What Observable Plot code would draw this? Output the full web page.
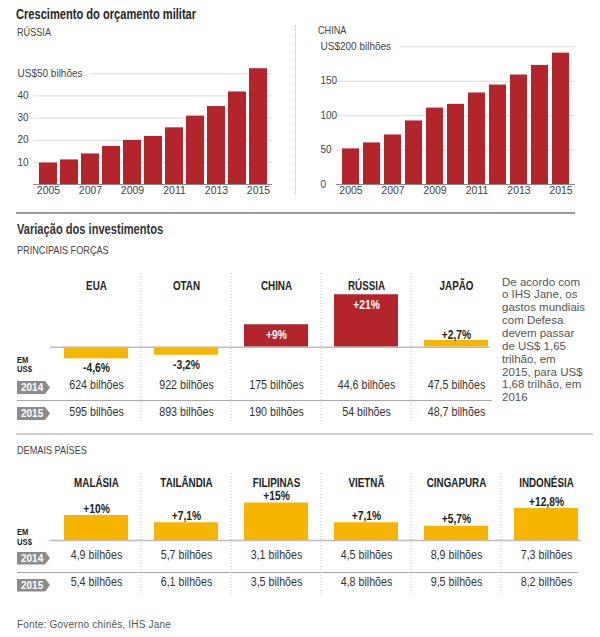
<!DOCTYPE html>
<html>
<head>
<meta charset="utf-8">
<script src="https://cdn.jsdelivr.net/npm/d3@7"></script>
<script src="https://cdn.jsdelivr.net/npm/@observablehq/plot@0.6"></script>
<style>
  html, body { margin: 0; padding: 0; background: #fff; }
  #root { position: relative; width: 600px; height: 637px; overflow: hidden; font-family: "Liberation Sans", Arial, sans-serif; color: #222; }
  .abs { position: absolute; white-space: nowrap; line-height: 1; }
  .cond { display: inline-block; transform-origin: left top; }
  .h1 { font-size: 15px; font-weight: bold; color: #262626; transform: scaleX(0.74); }
  .h2 { font-size: 11px; color: #444; transform: scaleX(0.83); }
  .tag { position: absolute; left: 17px; width: 33px; height: 13px; background: #8c8c8c; color: #fff;
         font: bold 10px "Liberation Sans", Arial, sans-serif; line-height: 13px; padding-left: 4px; box-sizing: border-box;
         clip-path: polygon(0 0, 28px 0, 33px 50%, 28px 100%, 0 100%); }
  .emus { position: absolute; left: 17px; font-size: 9px; font-weight: bold; line-height: 9.7px; color: #222;
          transform: scaleX(0.85); transform-origin: left top; white-space: nowrap; }
  .hline { position: absolute; height: 0; }
  .plotbox { position: absolute; }
  .note { position: absolute; left: 502px; top: 275.5px; font-size: 11.5px; line-height: 12.86px; color: #555; white-space: nowrap; }
</style>
</head>
<body>
<div id="root">
  <div class="abs cond h1" style="left:16px;top:5.5px;">Crescimento do orçamento militar</div>
  <div class="abs cond h2" style="left:17px;top:26.7px;">RÚSSIA</div>
  <div class="abs cond h2" style="left:318px;top:25.2px;">CHINA</div>
  <div style="position:absolute;left:295px;top:25px;height:170px;border-left:1px dotted #ccc;"></div>
  <div id="russia" class="plotbox" style="left:0px;top:60px;"></div>
  <div id="china" class="plotbox" style="left:303px;top:35px;"></div>

  <div class="hline" style="left:16px;top:211.5px;width:559px;border-top:2px solid #9a9a9a;"></div>
  <div class="abs cond h1" style="left:17px;top:220.6px;color:#333;">Variação dos investimentos</div>
  <div class="abs cond h2" style="left:17px;top:245px;">PRINCIPAIS FORÇAS</div>

  <div class="hline" style="left:17px;top:400px;width:475px;border-top:1px solid #aaa;"></div>
  <div id="main" class="plotbox" style="left:0px;top:268px;"></div>
  <div class="emus" style="top:355.5px;">EM<br>US$</div>
  <div class="tag" style="top:381px;">2014</div>
  <div class="tag" style="top:407px;">2015</div>
  <div class="note">De acordo com<br>o IHS Jane, os<br>gastos mundiais<br>com Defesa<br>devem passar<br>de US$ 1,65<br>trilhão, em<br>2015, para US$<br>1,68 trilhão, em<br>2016</div>

  <div class="hline" style="left:16px;top:433px;width:577px;border-top:2px solid #cfcfcf;"></div>
  <div class="abs cond h2" style="left:17px;top:444.6px;">DEMAIS PAÍSES</div>
  <div class="hline" style="left:17px;top:571.5px;width:561px;border-top:1px solid #aaa;"></div>
  <div id="others" class="plotbox" style="left:0px;top:468px;"></div>
  <div class="emus" style="top:528.3px;">EM<br>US$</div>
  <div class="tag" style="top:551.5px;">2014</div>
  <div class="tag" style="top:578.5px;">2015</div>

  <div class="abs" style="left:17px;top:619.8px;font-size:10px;color:#555;letter-spacing:0.2px;">Fonte: Governo chinês, IHS Jane</div>
</div>
<script>
// ---------- DATA ----------
const years = [2005, 2006, 2007, 2008, 2009, 2010, 2011, 2012, 2013, 2014, 2015];
const yearLabels = [2005, 2007, 2009, 2011, 2013, 2015];
const russiaBudget = [9.7, 11.1, 13.8, 17.2, 19.9, 21.7, 25.6, 30.9, 35.2, 41.8, 52.3];
const chinaBudget = [51.7, 60.4, 72.0, 92.3, 111.0, 116.4, 132.9, 144.4, 159.0, 173.0, 190.8];
const russiaTicks = [10, 20, 30, 40, 50];
const russiaTopLabel = "US$50 bilhões";
const chinaTicks = [0, 50, 100, 150, 200];
const chinaTopLabel = "US$200 bilhões";

const mainPowers = ["EUA", "OTAN", "CHINA", "RÚSSIA", "JAPÃO"];
const mainChange = [-4.6, -3.2, 9, 21, 2.7];
const mainChangeLabels = ["-4,6%", "-3,2%", "+9%", "+21%", "+2,7%"];
const main2014 = ["624 bilhões", "922 bilhões", "175 bilhões", "44,6 bilhões", "47,5 bilhões"];
const main2015 = ["595 bilhões", "893 bilhões", "190 bilhões", "54 bilhões", "48,7 bilhões"];
const highlighted = ["CHINA", "RÚSSIA"];

const others = ["MALÁSIA", "TAILÂNDIA", "FILIPINAS", "VIETNÃ", "CINGAPURA", "INDONÉSIA"];
const otherChange = [10, 7.1, 15, 7.1, 5.7, 12.8];
const otherChangeLabels = ["+10%", "+7,1%", "+15%", "+7,1%", "+5,7%", "+12,8%"];
const other2014 = ["4,9 bilhões", "5,7 bilhões", "3,1 bilhões", "4,5 bilhões", "8,9 bilhões", "7,3 bilhões"];
const other2015 = ["5,4 bilhões", "6,1 bilhões", "3,5 bilhões", "4,8 bilhões", "9,5 bilhões", "8,2 bilhões"];

// ---------- STYLE ----------
const RED = "#b3242b";
const GOLD = "#f7b500";
const SANS = "'Liberation Sans', Arial, sans-serif";

// compress glyphs horizontally (condensed type look), keeping each text's anchor
function condense(svg, factor) {
  svg.querySelectorAll("text").forEach(t => {
    const len = t.getComputedTextLength();
    if (len > 0) {
      t.setAttribute("textLength", (len * factor).toFixed(2));
      t.setAttribute("lengthAdjust", "spacingAndGlyphs");
    }
  });
}

// ---------- BUDGET CHARTS ----------
function budgetChart(values, ticks, topLabel, padding, height, marginTop) {
  const data = years.map((year, i) => ({year, value: values[i]}));
  const top = ticks[ticks.length - 1];
  return Plot.plot({
    width: 290, height, marginTop, marginBottom: 16, marginLeft: 33, marginRight: 18,
    x: {type: "band", domain: years, padding, axis: null},
    y: {domain: [0, top], axis: null},
    style: {background: "transparent", overflow: "visible", fontFamily: SANS},
    marks: [
      Plot.ruleY(ticks.filter(t => t !== 0 && t !== top), {stroke: "#dcdcdc"}),
      Plot.ruleY([top], {stroke: "#dcdcdc", insetLeft: top === 50 ? 56 : 64}),
      Plot.barY(data, {x: "year", y: "value", fill: RED}),
      Plot.ruleY([0], {stroke: "#8a8a8a", strokeWidth: 1.2}),
      Plot.text(ticks, {y: d => d, text: d => d === top ? topLabel : String(d), frameAnchor: "left",
        textAnchor: "start", dx: -16, fontSize: 10, fill: "#444"}),
      Plot.text(yearLabels, {x: d => d, text: d => String(d), frameAnchor: "bottom", dy: 9.5,
        fontSize: 10.5, fill: "#444"})
    ]
  });
}
document.getElementById("russia").append(budgetChart(russiaBudget, russiaTicks, russiaTopLabel, 0.16, 140, 13.3));
document.getElementById("china").append(budgetChart(chinaBudget, chinaTicks, chinaTopLabel, 0.19, 165, 11.3));

// ---------- CHANGE PANELS ----------
function separators(cats) {
  return (index, scales, values, dims) => {
    const x = scales.x;
    const bw = x.bandwidth ? x.bandwidth() : scales.scales.x.bandwidth;
    const st = x.step ? x.step() : scales.scales.x.step;
    const half = (st - bw) / 2;
    const g = d3.create("svg:g").attr("stroke", "#c4c4c4").attr("stroke-dasharray", "1,2");
    for (const c of cats.slice(1)) {
      const px = x(c) - half;
      g.append("line").attr("x1", px).attr("x2", px)
        .attr("y1", dims.marginTop).attr("y2", dims.height - dims.marginBottom);
    }
    return g.node();
  };
}

function changePanel(cats, change, labels, v14, v15, opts) {
  const data = cats.map((country, i) => ({country, change: change[i], label: labels[i], v2014: v14[i], v2015: v15[i]}));
  const isHi = d => highlighted.includes(d.country);
  const bold = {fontSize: 12.5, fontWeight: "bold", fill: "#222"};
  return Plot.plot({
    width: 600, height: opts.height, marginTop: 5, marginBottom: 5,
    marginLeft: opts.marginLeft, marginRight: opts.marginRight,
    x: {type: "band", domain: cats, paddingInner: 0.292, paddingOuter: 0.146, axis: null},
    y: {domain: opts.yDomain, axis: null},
    color: {type: "identity"},
    style: {background: "transparent", overflow: "visible", fontFamily: SANS},
    marks: [
      separators(cats),
      Plot.barY(data, {x: "country", y: "change", fill: d => isHi(d) ? RED : GOLD}),
      Plot.ruleY([0], {stroke: "#bdbdbd", strokeWidth: 1.5, insetRight: 12}),
      Plot.text(data, {x: "country", text: "country", frameAnchor: "top", dy: opts.labelDy, ...bold, fontSize: 12}),
      Plot.text(data.filter(d => d.change < 0), {x: "country", y: "change", text: "label", dy: 9.5, ...bold}),
      Plot.text(data.filter(d => d.change > 0 && isHi(d)), {x: "country", y: "change", text: "label", dy: 10, ...bold, fill: "#fff"}),
      Plot.text(data.filter(d => d.change > 0 && !isHi(d)), {x: "country", y: "change", text: "label", dy: opts.aboveDy, ...bold}),
      Plot.text(data, {x: "country", text: "v2014", frameAnchor: "bottom", dy: opts.row1Dy, fontSize: 13, fill: "#333"}),
      Plot.text(data, {x: "country", text: "v2015", frameAnchor: "bottom", dy: opts.row2Dy, fontSize: 13, fill: "#333"})
    ]
  });
}

const mainSvg = changePanel(mainPowers, mainChange, mainChangeLabels, main2014, main2015, {
  height: 160, marginLeft: 49.8, marginRight: 98.2, yDomain: [-30.5, 29.5],
  labelDy: 8, aboveDy: -6, row1Dy: -35, row2Dy: -8
});
document.getElementById("main").append(mainSvg);
condense(mainSvg, 0.82);

const othersSvg = changePanel(others, otherChange, otherChangeLabels, other2014, other2015, {
  height: 132, marginLeft: 49.7, marginRight: 7.3, yDomain: [-22, 26.8],
  labelDy: 4.5, aboveDy: -7, row1Dy: -37, row2Dy: -10
});
document.getElementById("others").append(othersSvg);
condense(othersSvg, 0.82);
</script>
</body>
</html>
